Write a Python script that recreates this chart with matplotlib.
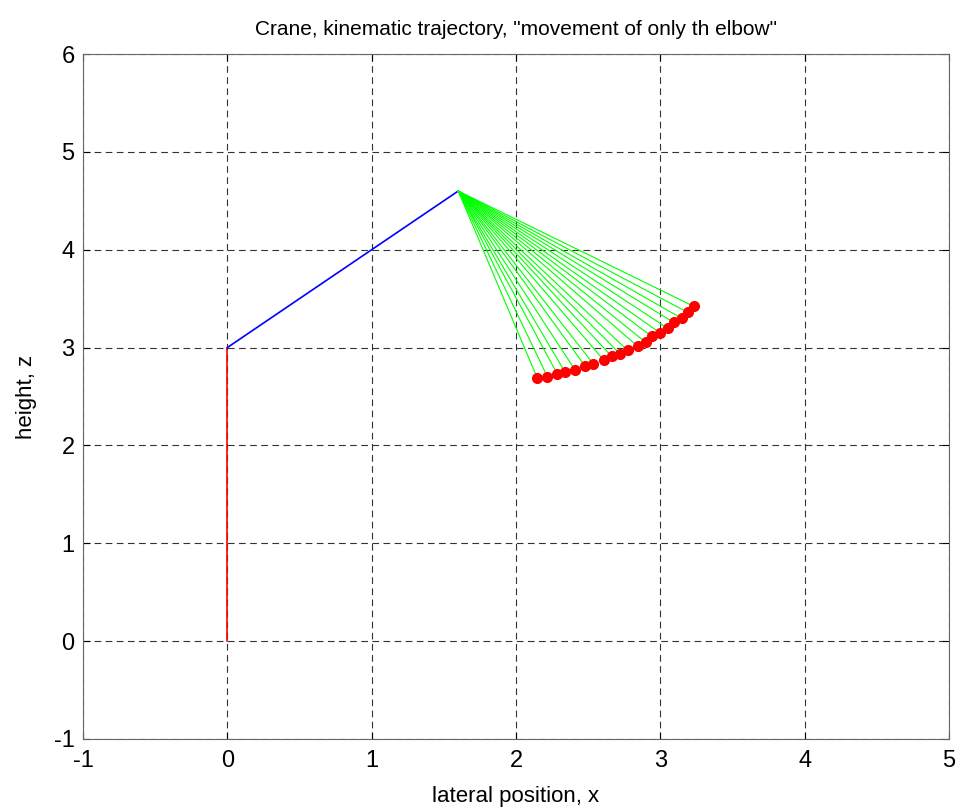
import numpy as np
import matplotlib.pyplot as plt

plt.rcParams['font.family'] = ['Liberation Sans', 'DejaVu Sans']
plt.rcParams['axes.unicode_minus'] = False

# crane links
base = [0.0, 0.0]
shoulder = [0.0, 3.0]
elbow = [1.6, 4.6]

# end-effector trajectory
tip_x = [2.148, 2.217, 2.287, 2.340, 2.410, 2.479, 2.535, 2.607, 2.662, 2.718,
         2.773, 2.843, 2.898, 2.940, 2.995, 3.051, 3.092, 3.148, 3.190, 3.231]
tip_z = [2.687, 2.704, 2.728, 2.748, 2.769, 2.809, 2.834, 2.874, 2.911, 2.939,
         2.972, 3.013, 3.054, 3.115, 3.153, 3.197, 3.258, 3.299, 3.360, 3.422]

fig = plt.figure(figsize=(9.64, 8.10), dpi=100)
ax = fig.add_axes([0.0861, 0.0877, 0.8983, 0.8456])

ax.plot([base[0], shoulder[0]], [base[1], shoulder[1]], color='red', lw=1.2)
ax.plot([shoulder[0], elbow[0]], [shoulder[1], elbow[1]], color='blue', lw=1.2)
for x, z in zip(tip_x, tip_z):
    ax.plot([elbow[0], x], [elbow[1], z], color='#00ff00', lw=0.8)
ax.plot(tip_x, tip_z, 'o', color='red', ms=7, zorder=5)

ax.set_xlim(-1, 5)
ax.set_ylim(-1, 6)
ax.set_xticks(range(-1, 6))
ax.set_yticks(range(-1, 7))
ax.grid(True, color='#333333', ls=(0, (6, 4)), lw=0.8)
ax.tick_params(direction='in', labelsize=17, length=5, top=True, right=True)
ax.tick_params(axis='x', pad=8)
ax.tick_params(axis='y', pad=6)
for s in ax.spines.values():
    s.set_color('#666666')
ax.set_xlabel('lateral position, x', fontsize=16, labelpad=10)
ax.set_ylabel('height, z', fontsize=16, labelpad=12)
ax.set_title('Crane, kinematic trajectory, "movement of only th elbow"', fontsize=15, pad=14)

fig.savefig('out.png', dpi=100)
